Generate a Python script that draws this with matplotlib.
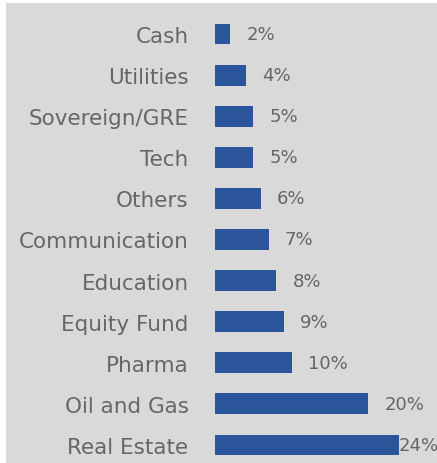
import matplotlib.pyplot as plt
from matplotlib.patches import Rectangle

sectors = ['Cash', 'Utilities', 'Sovereign/GRE', 'Tech', 'Others', 'Communication',
           'Education', 'Equity Fund', 'Pharma', 'Oil and Gas', 'Real Estate']
weights = [2, 4, 5, 5, 6, 7, 8, 9, 10, 20, 24]

bar_color = '#2b559b'
text_color = '#666666'
font = 'DejaVu Sans'

fig = plt.figure(figsize=(4.37, 4.64), dpi=100)
fig.patch.set_facecolor('white')
fig.patches.append(Rectangle((6 / 437, 0), 1, 460 / 464, transform=fig.transFigure,
                             facecolor='#d9d9d9', edgecolor='none', zorder=-5))

ax = fig.add_axes([215 / 437, 0, 222 / 437, 1])
ax.patch.set_alpha(0)

y = list(range(len(sectors)))
ax.barh(y, weights, height=0.51, color=bar_color)

for i, w in enumerate(weights):
    # the last label gets pushed back against the bar end
    off = 2.1 if i < len(weights) - 1 else -0.1
    ax.text(w + off, i, f'{w}%', va='center', ha='left', fontsize=13,
            color=text_color, family=font)

ax.set_xlim(0, 222 / 7.67)
ax.set_ylim((464 - 35) / 41.1, -35 / 41.1)
ax.set_yticks(y)
ax.set_yticklabels(sectors, fontsize=15.5, color=text_color, family=font)
ax.tick_params(axis='y', length=0, pad=19)
ax.set_xticks([])
for s in ax.spines.values():
    s.set_visible(False)

fig.savefig('out.png', dpi=100)
